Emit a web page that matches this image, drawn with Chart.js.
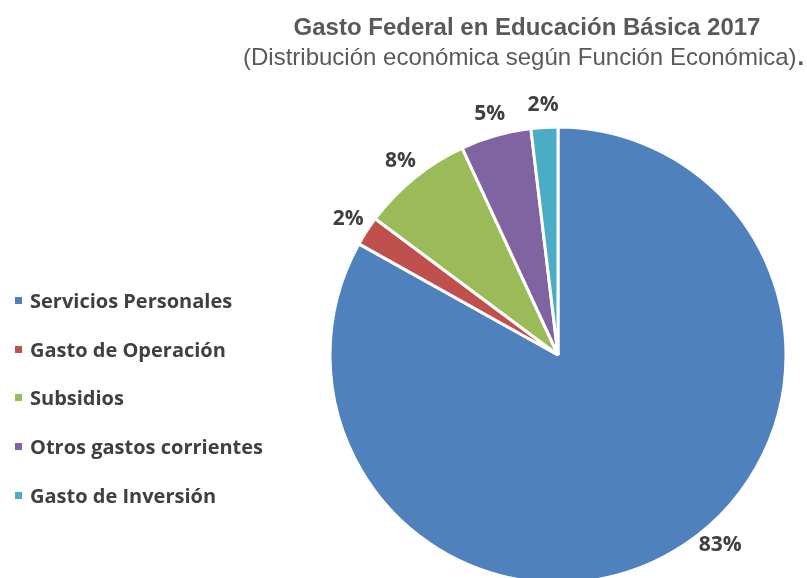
<!DOCTYPE html>
<html>
<head>
<meta charset="utf-8">
<script src="https://cdn.jsdelivr.net/npm/chart.js@4"></script>
<style>
  body { margin: 0; background: #fff; }
  #wrap { position: relative; width: 807px; height: 578px; overflow: hidden; }
  #legend { position: absolute; left: 15px; top: 276px; font: bold 20px "Open Sans", sans-serif; color: #404040; }
  #legend .item { height: 48.8px; display: flex; align-items: center; white-space: nowrap; }
  #legend .box { width: 7px; height: 7px; margin-right: 8px; }
</style>
</head>
<body>
<div id="wrap">
  <canvas id="myChart" width="807" height="578"></canvas>
  <div id="legend"></div>
</div>
<script>
const categories = ['Servicios Personales', 'Gasto de Operación', 'Subsidios', 'Otros gastos corrientes', 'Gasto de Inversión'];
const values = [83.1, 2.1, 7.9, 5.0, 1.9];
const colors = ['#4F81BD', '#C0504D', '#9BBB59', '#8064A2', '#4BACC6'];

// legend on the left
const legend = document.getElementById('legend');
categories.forEach((c, i) => {
  legend.innerHTML += '<div class="item"><span class="box" style="background:' + colors[i] + '"></span>' + c + '</div>';
});

// title + subtitle drawn at top
const titlePlugin = {
  id: 'titles',
  afterDraw(chart) {
    const ctx = chart.ctx;
    ctx.save();
    ctx.fillStyle = '#595959';
    ctx.textBaseline = 'alphabetic';
    ctx.textAlign = 'center';
    ctx.font = 'bold 24px "Liberation Sans", Arial, sans-serif';
    ctx.fillText('Gasto Federal en Educación Básica 2017', 527, 35, 476);
    ctx.font = '24px "Liberation Sans", Arial, sans-serif';
    const sub = '(Distribución económica según Función Económica)';
    const w = Math.min(ctx.measureText(sub).width, 557);
    ctx.textAlign = 'left';
    ctx.fillText(sub, 243, 65, 557);
    ctx.font = 'bold 24px "Liberation Sans", Arial, sans-serif';
    ctx.fillText('.', 243 + w + 1, 65);
    ctx.restore();
  }
};

// percentage labels outside the slices
const pctPlugin = {
  id: 'pct',
  afterDatasetsDraw(chart, args, opts) {
    const ctx = chart.ctx;
    const meta = chart.getDatasetMeta(0);
    const total = values.reduce((a, b) => a + b, 0);
    ctx.save();
    ctx.font = 'bold 21px "Open Sans", sans-serif';
    ctx.fillStyle = '#404040';
    ctx.textAlign = 'center';
    ctx.textBaseline = 'middle';
    meta.data.forEach((arc, i) => {
      const mid = (arc.startAngle + arc.endAngle) / 2 + (opts.shift[i] || 0) * Math.PI / 180;
      const r = arc.outerRadius + opts.offset;
      const x = arc.x + Math.cos(mid) * r;
      const y = arc.y + Math.sin(mid) * r;
      ctx.fillText(Math.round(values[i] / total * 100) + '%', x, y);
    });
    ctx.restore();
  }
};

const ctx = document.getElementById('myChart');

new Chart(ctx, {
  type: 'pie',
  data: {
    labels: categories,
    datasets: [{
      data: values,
      backgroundColor: colors,
      borderColor: '#ffffff',
      borderWidth: 3
    }]
  },
  options: {
    responsive: false,
    animation: false,
    radius: 228,
    layout: { padding: { left: 309, top: 132, right: 0, bottom: 0 } },
    plugins: {
      legend: { display: false },
      tooltip: { enabled: false },
      pct: { offset: 22, shift: [-10, 0, 0, 0, 0] }
    }
  },
  plugins: [titlePlugin, pctPlugin]
});
</script>
</body>
</html>
